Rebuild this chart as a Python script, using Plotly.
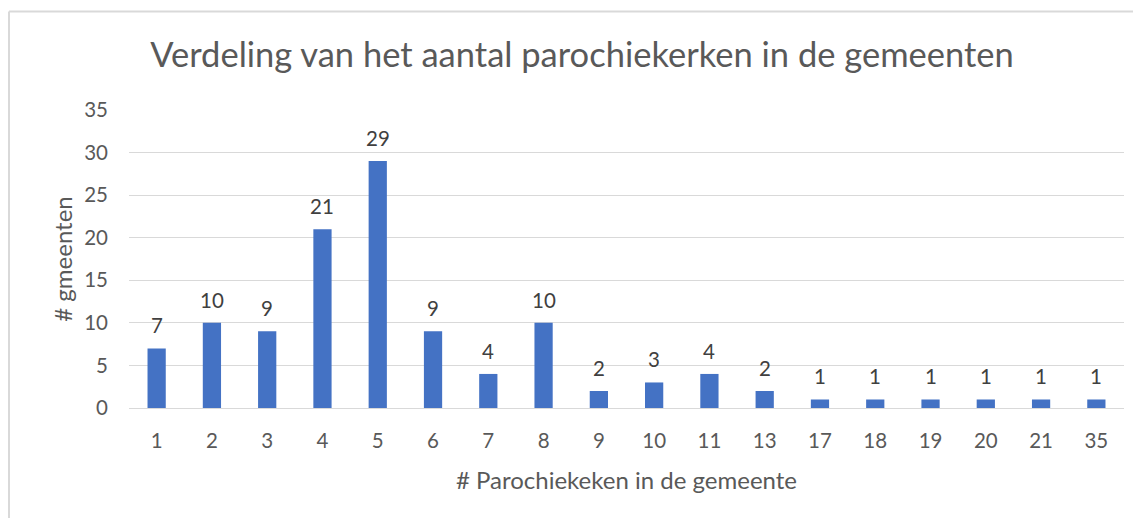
import plotly.graph_objects as go

categories = ["1", "2", "3", "4", "5", "6", "7", "8", "9", "10", "11", "13", "17", "18", "19", "20", "21", "35"]
values = [7, 10, 9, 21, 29, 9, 4, 10, 2, 3, 4, 2, 1, 1, 1, 1, 1, 1]
y_ticks = [0, 5, 10, 15, 20, 25, 30, 35]

FONT = "Lato"
TXT = "#595959"
W, H = 1133, 510
L, R, T, B = 121, 17, 102, 110
PW, PH = W - L - R, H - T - B

fig = go.Figure(go.Bar(
    x=categories, y=values,
    marker=dict(color="#4472C4", line=dict(width=0)),
    width=0.33,
))

# data labels: category axis positions are the category indices
for i, v in enumerate(values):
    fig.add_annotation(x=i, y=v, xref="x", yref="y", text=str(v), showarrow=False,
                       yanchor="middle", yshift=23,
                       font=dict(family=FONT, size=20.5, color="#404040"))

fig.update_layout(
    width=W, height=H,
    paper_bgcolor="white", plot_bgcolor="white",
    margin=dict(l=L, r=R, t=T, b=B),
    title=dict(text="Verdeling van het aantal parochiekerken in de gemeenten",
               x=574 / W, xanchor="center", y=1 - 47 / H, yanchor="middle",
               font=dict(family=FONT, size=34.5, color=TXT)),
    showlegend=False,
    xaxis=dict(type="category", showgrid=False, showline=False, ticks="",
               ticklabelstandoff=18,
               tickfont=dict(family=FONT, size=20.5, color=TXT),
               title=dict(text="# Parochiekeken in de gemeente", standoff=21,
                          font=dict(family=FONT, size=24, color=TXT))),
    yaxis=dict(range=[0, 35], tickvals=y_ticks, showgrid=True, gridcolor="#D9D9D9",
               gridwidth=1.3, zeroline=True, zerolinecolor="#D9D9D9", zerolinewidth=1.3,
               showline=False, ticks="", ticklabelstandoff=20,
               tickfont=dict(family=FONT, size=20.5, color=TXT),
               title=dict(text="# gmeenten", standoff=4,
                          font=dict(family=FONT, size=24, color=TXT))),
    shapes=[
        dict(type="line", xref="paper", yref="paper",
             x0=(1 - L) / PW, x1=(W - L) / PW, y0=(H - B - 3.5) / PH, y1=(H - B - 3.5) / PH,
             line=dict(color="#D9D9D9", width=2)),
        dict(type="line", xref="paper", yref="paper",
             x0=(1 - L) / PW, x1=(1 - L) / PW, y0=(H - B - 3.5) / PH, y1=-(B + 5) / PH,
             line=dict(color="#D9D9D9", width=2)),
    ],
)

fig.write_html("out.html")
